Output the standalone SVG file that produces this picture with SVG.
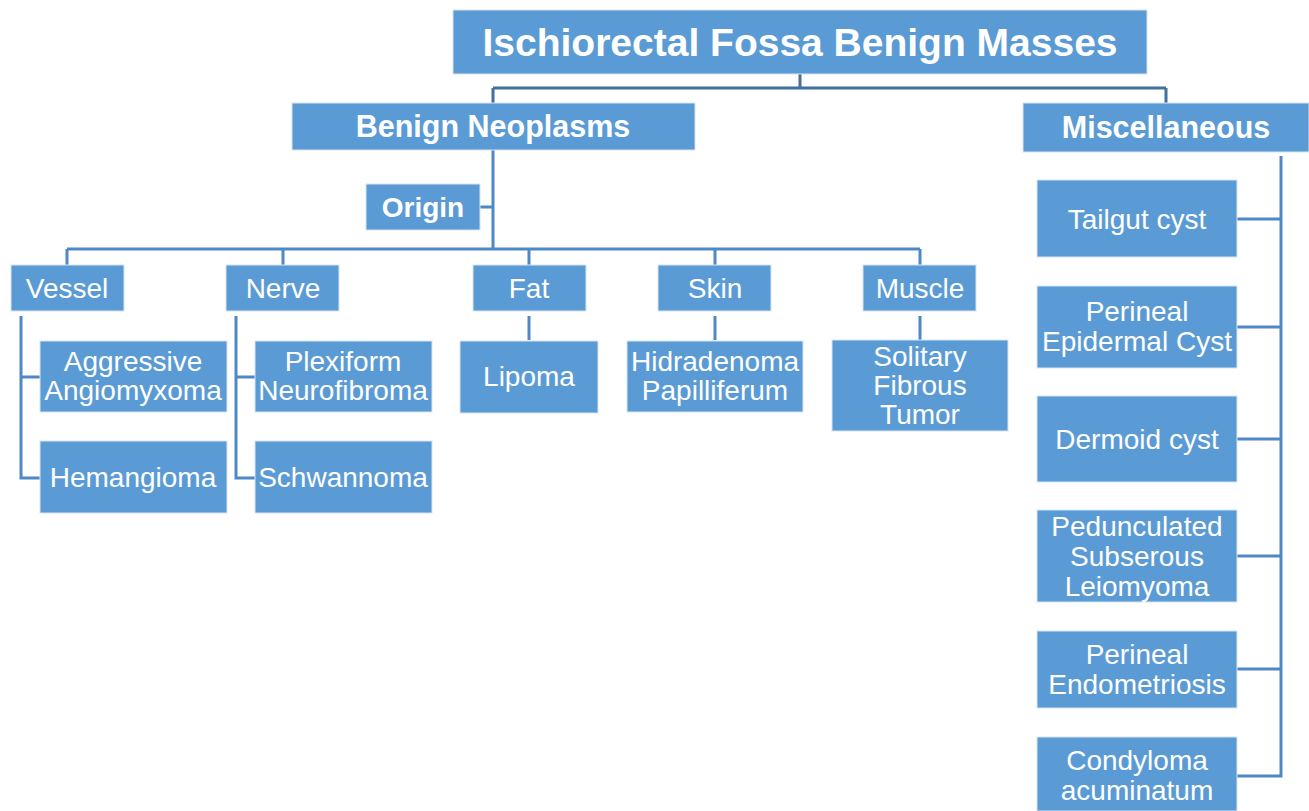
<svg xmlns="http://www.w3.org/2000/svg" width="1309" height="811" viewBox="0 0 1309 811">
<style>
.box{fill:#5B9BD5;stroke:#d6e4f3;stroke-width:1}
.t{font-family:"Liberation Sans",Arial,sans-serif;fill:#fff;text-anchor:middle;font-size:28px}
.b{font-weight:bold}
.ln{fill:none;stroke:#4F88C6;stroke-width:3}
.dk{stroke:#41719C}
</style>
<rect width="1309" height="811" fill="#fff"/>
<g id="connectors">
<path class="ln dk" d="M800 74V88M493 88H1166M493 88V103M1166 88V103"/>
<path class="ln" d="M493 150V249M480 207H493M67 249H920M67 249V265M283 249V265M529 249V265M715 249V265M920 249V265"/>
<path class="ln" d="M21 316V478H40M21 377H40M236 316V478H255M236 377H255"/>
<path class="ln" d="M529 316V340M715 316V340M920 316V340"/>
<path class="ln" d="M1281 156V776H1237M1237 219H1281M1237 327H1281M1237 439H1281M1237 556H1281M1237 669H1281"/>
</g>
<g id="title"><rect class="box" x="453" y="10" width="694" height="64"/><text class="t b" x="800" y="56" style="font-size:39px">Ischiorectal Fossa Benign Masses</text></g>
<g id="benign"><rect class="box" x="292" y="103" width="403" height="47"/><text class="t b" x="493" y="137" style="font-size:30.5px">Benign Neoplasms</text></g>
<g id="misc"><rect class="box" x="1023" y="103" width="286" height="49"/><text class="t b" x="1166" y="138" style="font-size:30.5px">Miscellaneous</text></g>
<g id="origin"><rect class="box" x="366" y="184" width="114" height="46"/><text class="t b" x="423" y="217">Origin</text></g>
<g id="vessel"><rect class="box" x="11" y="265" width="113" height="46"/><text class="t" x="67" y="298">Vessel</text></g>
<g id="nerve"><rect class="box" x="226" y="265" width="113" height="46"/><text class="t" x="283" y="298">Nerve</text></g>
<g id="fat"><rect class="box" x="473" y="265" width="113" height="46"/><text class="t" x="529" y="298">Fat</text></g>
<g id="skin"><rect class="box" x="658" y="265" width="113" height="46"/><text class="t" x="715" y="298">Skin</text></g>
<g id="muscle"><rect class="box" x="863" y="265" width="113" height="46"/><text class="t" x="920" y="298">Muscle</text></g>
<g id="aggressive"><rect class="box" x="40" y="341" width="187" height="71"/><text class="t" x="133" y="371">Aggressive</text><text class="t" x="133" y="400">Angiomyxoma</text></g>
<g id="hemangioma"><rect class="box" x="40" y="441" width="187" height="72"/><text class="t" x="133" y="487">Hemangioma</text></g>
<g id="plexiform"><rect class="box" x="255" y="341" width="177" height="71"/><text class="t" x="343" y="371">Plexiform</text><text class="t" x="343" y="400">Neurofibroma</text></g>
<g id="schwannoma"><rect class="box" x="255" y="441" width="177" height="72"/><text class="t" x="343" y="487">Schwannoma</text></g>
<g id="lipoma"><rect class="box" x="460" y="341" width="138" height="72"/><text class="t" x="529" y="386">Lipoma</text></g>
<g id="hidradenoma"><rect class="box" x="627" y="341" width="176" height="71"/><text class="t" x="715" y="371">Hidradenoma</text><text class="t" x="715" y="400">Papilliferum</text></g>
<g id="solitary"><rect class="box" x="832" y="340" width="176" height="91"/><text class="t" x="920" y="366">Solitary</text><text class="t" x="920" y="395">Fibrous</text><text class="t" x="920" y="424">Tumor</text></g>
<g id="tailgut"><rect class="box" x="1037" y="180" width="200" height="77"/><text class="t" x="1137" y="229">Tailgut cyst</text></g>
<g id="epidermal"><rect class="box" x="1037" y="286" width="200" height="82"/><text class="t" x="1137" y="321">Perineal</text><text class="t" x="1137" y="351">Epidermal Cyst</text></g>
<g id="dermoid"><rect class="box" x="1037" y="396" width="200" height="86"/><text class="t" x="1137" y="449">Dermoid cyst</text></g>
<g id="pedunculated"><rect class="box" x="1037" y="510" width="200" height="92"/><text class="t" x="1137" y="536">Pedunculated</text><text class="t" x="1137" y="566">Subserous</text><text class="t" x="1137" y="596">Leiomyoma</text></g>
<g id="endometriosis"><rect class="box" x="1037" y="631" width="200" height="77"/><text class="t" x="1137" y="664">Perineal</text><text class="t" x="1137" y="694">Endometriosis</text></g>
<g id="condyloma"><rect class="box" x="1037" y="737" width="200" height="74"/><text class="t" x="1137" y="770">Condyloma</text><text class="t" x="1137" y="800">acuminatum</text></g>
</svg>
